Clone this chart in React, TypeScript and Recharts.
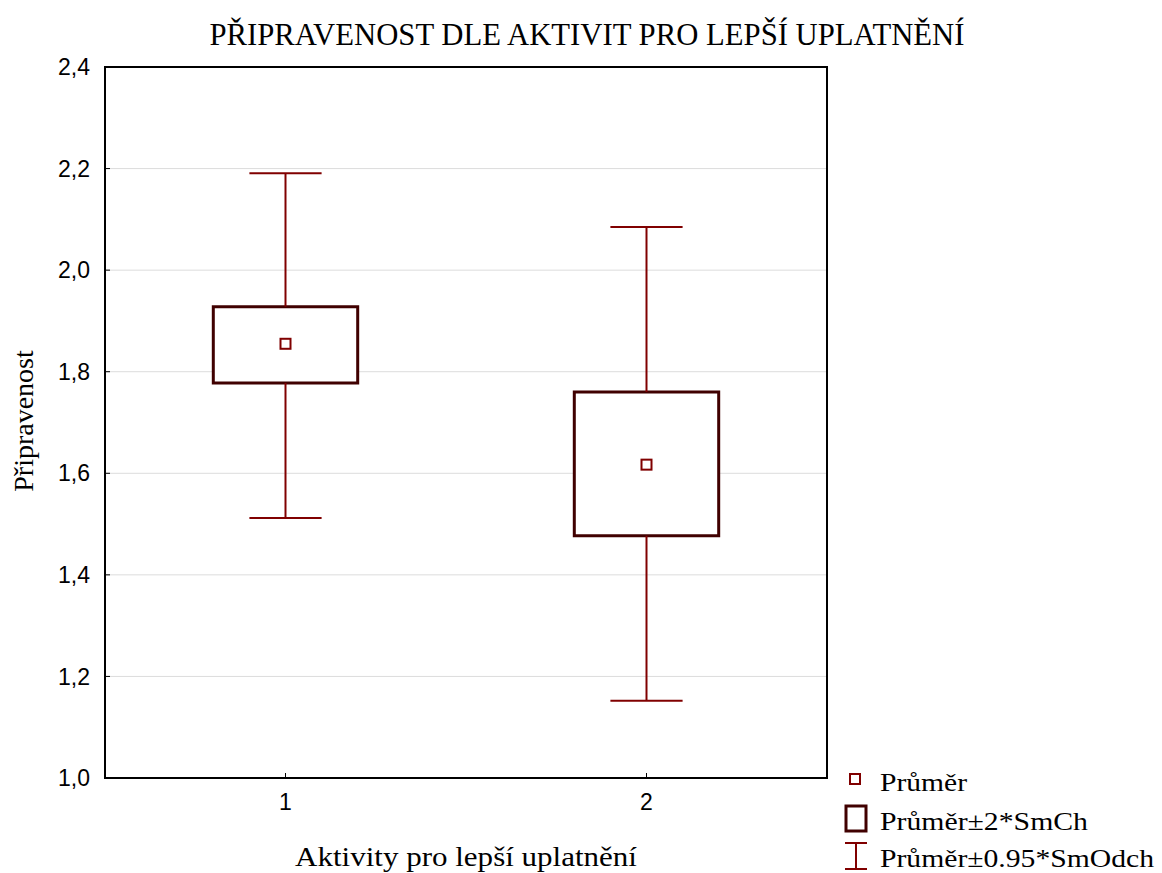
import {
  CartesianGrid,
  ComposedChart,
  ReferenceArea,
  ReferenceLine,
  Scatter,
  XAxis,
  YAxis,
} from "recharts";

// groups on the x axis
const categories = [1, 2];
// mean per group
const means = [1.855, 1.617];
// mean ± 2*SE (box)
const boxLow = [1.778, 1.477];
const boxHigh = [1.928, 1.76];
// mean ± 0.95*SD (whiskers)
const whiskerLow = [1.512, 1.152];
const whiskerHigh = [2.191, 2.085];

const yTicks = [1.0, 1.2, 1.4, 1.6, 1.8, 2.0, 2.2, 2.4];

const title = "PŘIPRAVENOST DLE AKTIVIT PRO LEPŠÍ UPLATNĚNÍ";
const xTitle = "Aktivity pro lepší uplatnění";
const yTitle = "Připravenost";
const legendItems = ["Průměr", "Průměr±2*SmCh", "Průměr±0.95*SmOdch"];

const WHISKER = "#800000";
const BOX = "#400000";
const SERIF = "'Liberation Serif', 'Times New Roman', serif";
const SANS = "'Liberation Sans', Arial, sans-serif";

const meanData = categories.map((c, i) => ({ x: c, y: means[i] }));

const fmt = (v: number) => v.toFixed(1).replace(".", ",");

function MeanMarker(props: any) {
  const { cx, cy } = props;
  return (
    <rect
      x={cx - 5}
      y={cy - 5}
      width={10}
      height={10}
      fill="#fff"
      stroke={WHISKER}
      strokeWidth={2}
    />
  );
}

export default function App() {
  return (
    <div style={{ position: "absolute", left: 0, top: 0, width: 1162, height: 873, background: "#fff" }}>
      <ComposedChart
        width={1162}
        height={873}
        data={meanData}
        margin={{ top: 67, right: 0, bottom: 0, left: 0 }}
      >
        <CartesianGrid horizontal vertical={false} stroke="#dcdcdc" strokeWidth={1} />
        <XAxis
          dataKey="x"
          type="number"
          domain={[0.5, 2.5]}
          ticks={categories}
          height={95}
          axisLine={{ stroke: "#000", strokeWidth: 2 }}
          tickLine={{ stroke: "#000" }}
          tickSize={-5}
          tickMargin={21}
          tick={{ fill: "#000", fontSize: 23, fontFamily: SANS }}
        />
        <YAxis
          dataKey="y"
          type="number"
          domain={[1, 2.4]}
          ticks={yTicks}
          width={105}
          axisLine={{ stroke: "#000", strokeWidth: 2 }}
          tickLine={{ stroke: "#000" }}
          tickSize={-5}
          tickMargin={20}
          tickFormatter={fmt}
          tick={{ fill: "#000", fontSize: 23, fontFamily: SANS }}
        />
        <YAxis
          yAxisId="right"
          orientation="right"
          type="number"
          domain={[1, 2.4]}
          ticks={yTicks}
          width={335}
          axisLine={{ stroke: "#000", strokeWidth: 2 }}
          tickLine={{ stroke: "#000" }}
          tickSize={-5}
          tick={false}
        />
        {categories.map((c, i) => (
          <ReferenceLine
            key={`wu${c}`}
            segment={[
              { x: c, y: boxHigh[i] },
              { x: c, y: whiskerHigh[i] },
            ]}
            stroke={WHISKER}
            strokeWidth={2}
          />
        ))}
        {categories.map((c, i) => (
          <ReferenceLine
            key={`wl${c}`}
            segment={[
              { x: c, y: whiskerLow[i] },
              { x: c, y: boxLow[i] },
            ]}
            stroke={WHISKER}
            strokeWidth={2}
          />
        ))}
        {categories.map((c, i) => (
          <ReferenceLine
            key={`ct${c}`}
            segment={[
              { x: c - 0.1, y: whiskerHigh[i] },
              { x: c + 0.1, y: whiskerHigh[i] },
            ]}
            stroke={WHISKER}
            strokeWidth={2}
          />
        ))}
        {categories.map((c, i) => (
          <ReferenceLine
            key={`cb${c}`}
            segment={[
              { x: c - 0.1, y: whiskerLow[i] },
              { x: c + 0.1, y: whiskerLow[i] },
            ]}
            stroke={WHISKER}
            strokeWidth={2}
          />
        ))}
        {categories.map((c, i) => (
          <ReferenceArea
            key={`box${c}`}
            x1={c - 0.2}
            x2={c + 0.2}
            y1={boxLow[i]}
            y2={boxHigh[i]}
            fill="#fff"
            fillOpacity={1}
            stroke={BOX}
            strokeWidth={3}
          />
        ))}
        {/* plot frame */}
        <ReferenceArea
          x1={0.5}
          x2={2.5}
          y1={1}
          y2={2.4}
          fill="none"
          stroke="#000"
          strokeWidth={2}
          ifOverflow="visible"
        />
        <Scatter dataKey="y" shape={<MeanMarker />} isAnimationActive={false} />
      </ComposedChart>
      <svg
        width={1162}
        height={873}
        style={{ position: "absolute", left: 0, top: 0, pointerEvents: "none" }}
      >
        <text
          x={587}
          y={45}
          textAnchor="middle"
          fontFamily={SERIF}
          fontSize={31}
          textLength={755}
          lengthAdjust="spacingAndGlyphs"
          fill="#000"
        >
          {title}
        </text>
        <text
          x={466}
          y={866}
          textAnchor="middle"
          fontFamily={SERIF}
          fontSize={28}
          textLength={342}
          lengthAdjust="spacingAndGlyphs"
          fill="#000"
        >
          {xTitle}
        </text>
        <text
          transform="translate(33,421) rotate(-90)"
          textAnchor="middle"
          fontFamily={SERIF}
          fontSize={28}
          fill="#000"
        >
          {yTitle}
        </text>
        {/* legend */}
        <rect x={850} y={774} width={10} height={10} fill="#fff" stroke={WHISKER} strokeWidth={2} />
        <rect x={846} y={806} width={20} height={25} fill="#fff" stroke={BOX} strokeWidth={3} />
        <line x1={845} x2={867} y1={843} y2={843} stroke={WHISKER} strokeWidth={2} />
        <line x1={856} x2={856} y1={843} y2={869} stroke={WHISKER} strokeWidth={2} />
        <line x1={845} x2={867} y1={869} y2={869} stroke={WHISKER} strokeWidth={2} />
        {legendItems.map((t, i) => (
          <text
            key={t}
            x={880}
            y={[791, 830, 867][i]}
            fontFamily={SERIF}
            fontSize={26}
            textLength={[87, 208, 274][i]}
            lengthAdjust="spacingAndGlyphs"
            fill="#000"
          >
            {t}
          </text>
        ))}
      </svg>
    </div>
  );
}
